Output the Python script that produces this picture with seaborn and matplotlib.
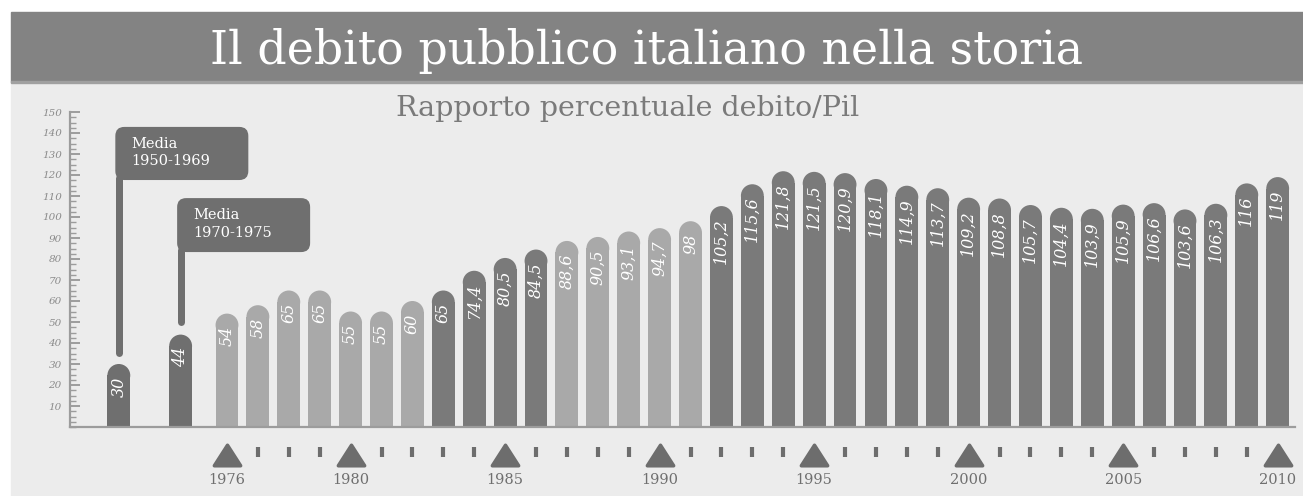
import numpy as np
import pandas as pd
import seaborn as sns
import matplotlib
matplotlib.use("Agg")
import matplotlib.pyplot as plt
from matplotlib.patches import Rectangle, Ellipse, FancyBboxPatch
from matplotlib.markers import MarkerStyle
from matplotlib.path import Path
import matplotlib.transforms as mtransforms
from matplotlib.ticker import MultipleLocator

# ---------------- data ----------------
title = "Il debito pubblico italiano nella storia"
subtitle = "Rapporto percentuale debito/Pil"

media_labels = ["Media\n1950-1969", "Media\n1970-1975"]
media_values = [30, 44]
media_pos = [1972.5, 1974.5]

years = list(range(1976, 2011))
debt = [54, 58, 65, 65, 55, 55, 60, 65, 74.4, 80.5, 84.5, 88.6, 90.5, 93.1,
        94.7, 98, 105.2, 115.6, 121.8, 121.5, 120.9, 118.1, 114.9, 113.7,
        109.2, 108.8, 105.7, 104.4, 103.9, 105.9, 106.6, 103.6, 106.3, 116, 119]
tone = (["chiaro"] * 7 + ["scuro"] * 4 + ["chiaro"] * 5 + ["scuro"] * 19)

label_years = [1976, 1980, 1985, 1990, 1995, 2000, 2005, 2010]
y_ticks = list(range(10, 151, 10))

# ---------------- styling ----------------
sns.set_theme(style="white")
plt.rcParams["font.family"] = ["DejaVu Serif", "DejaVu Sans"]

W, H = 1303, 496
fig = plt.figure(figsize=(W / 100, H / 100), dpi=100)
fig.patch.set_facecolor("white")

BG = "#ececec"
BANNER = "#838383"
DARK = "#7a7a7a"
LIGHT = "#a9a9a9"
MEDIA = "#6f6f6f"
AXIS = "#9c9c9c"

# background and banner (figure coords)
fig.patches.append(Rectangle((11 / W, 0), 1 - 11 / W, 1 - 82 / H,
                             transform=fig.transFigure, color=BG, zorder=-10))
fig.patches.append(Rectangle((11 / W, 1 - 82 / H), 1 - 11 / W, 70 / H,
                             transform=fig.transFigure, color=BANNER, zorder=-9))
fig.patches.append(Rectangle((11 / W, 1 - 83 / H), 1 - 11 / W, 1.5 / H,
                             transform=fig.transFigure, color="#a0a0a0", zorder=-8))

fig.text(646 / W, 1 - 64 / H, title, color="white", fontsize=33,
         ha="center", va="baseline", family="DejaVu Serif")
fig.text(628 / W, 1 - 116 / H, subtitle, color="#7a7a7a", fontsize=20.5,
         ha="center", va="baseline", family="DejaVu Serif")

# axes
ax_left, ax_right, ax_bottom, ax_top = 70, 1295, 427, 112
ax = fig.add_axes([ax_left / W, 1 - ax_bottom / H,
                   (ax_right - ax_left) / W, (ax_bottom - ax_top) / H])
ax.set_facecolor("none")

df = pd.DataFrame({
    "pos": media_pos + years,
    "val": media_values + debt,
    "grp": ["media"] * len(media_values) + tone,
})
labels_txt = [("%g" % v).replace(".", ",") for v in df["val"]]

sns.barplot(data=df, x="pos", y="val", hue="grp", native_scale=True,
            palette={"media": MEDIA, "chiaro": LIGHT, "scuro": DARK},
            dodge=False, width=0.74, saturation=1, legend=False, ax=ax)

ax.set_xlim(1970.92, 2010.56)
ax.set_ylim(0, 150)

# pixel scale
p0 = ax.transData.transform((0, 0))
px_x = ax.transData.transform((1, 0))[0] - p0[0]
px_y = ax.transData.transform((0, 1))[1] - p0[1]

# round bar tops
for p in list(ax.patches):
    x, w, h = p.get_x(), p.get_width(), p.get_height()
    if h <= 0:
        continue
    ry = (w / 2) * px_x / px_y
    fc = p.get_facecolor()
    p.set_height(h - ry)
    p.set_edgecolor("none")
    ax.add_patch(Ellipse((x + w / 2, h - ry), w, 2 * ry, facecolor=fc,
                         edgecolor="none", zorder=p.get_zorder()))

# value labels
for xp, v, t in zip(df["pos"], df["val"], labels_txt):
    ax.text(xp, v - 6, t, rotation=90, ha="center", va="top", color="white",
            fontsize=11.5, style="italic", family="DejaVu Serif", zorder=5)

# callouts
aspect = px_x / px_y
box_tops = [142.9, 109.0]
box_bottoms = [117.6, 83.3]
line_ends = [35.2, 50.1]
lw_px = 7
for xp, lab, top, bot, le in zip(media_pos, media_labels, box_tops, box_bottoms, line_ends):
    left = xp - (lw_px / 2) / px_x
    ax.plot([xp, xp], [le, bot + 1], color=MEDIA, lw=lw_px * 0.72,
            solid_capstyle="round", zorder=4)
    box = FancyBboxPatch((left, bot), 133 / px_x, top - bot,
                         boxstyle="round,pad=0,rounding_size=%f" % (9 / px_x),
                         mutation_aspect=aspect, facecolor=MEDIA,
                         edgecolor="none", zorder=4)
    ax.add_patch(box)
    ax.text(left + 16 / px_x, (top + bot) / 2 + 0.5, lab, color="white", fontsize=10.5,
            ha="left", va="center", linespacing=1.3, family="DejaVu Serif",
            zorder=6)

# axes styling
for s in ["top", "right"]:
    ax.spines[s].set_visible(False)
for s in ["left", "bottom"]:
    ax.spines[s].set_color(AXIS)
    ax.spines[s].set_linewidth(1.6)

ax.set_yticks(y_ticks)
ax.set_yticklabels([str(t) for t in y_ticks])
ax.yaxis.set_minor_locator(MultipleLocator(2.5))
ax.tick_params(axis="y", which="major", direction="in", length=7, width=1.4,
               color=AXIS, pad=6, labelsize=7.5, labelcolor="#8a8a8a", left=True)
ax.tick_params(axis="y", which="minor", direction="in", length=4, width=1.0,
               color=AXIS, left=True)
for lab in ax.get_yticklabels():
    lab.set_style("italic")
    lab.set_family("DejaVu Serif")

ax.set_xticks(label_years)
ax.set_xticklabels([str(y) for y in label_years])
ax.tick_params(axis="x", length=0, pad=33, labelsize=10.5, labelcolor="#6f6f6f")
ax.set_xlabel("")
ax.set_ylabel("")

# bottom markers: triangles and small ticks
trans = mtransforms.blended_transform_factory(ax.transData, ax.transAxes)
tri = MarkerStyle(Path([(-1, -0.78), (1, -0.78), (0, 0.78), (-1, -0.78)], closed=True),
                  joinstyle="round")
ax.plot(label_years, [(ax_bottom - 455) / (ax_bottom - ax_top)] * len(label_years),
        ls="none", marker=tri, markersize=19, color="#6d6d6d", mec="#6d6d6d",
        mew=2.5, transform=trans, clip_on=False)
small = [y for y in years if y not in label_years]
ax.plot(small, [(ax_bottom - 452) / (ax_bottom - ax_top)] * len(small),
        ls="none", marker="|", markersize=7, mew=3, color="#6d6d6d",
        transform=trans, clip_on=False)

fig.savefig("out.png", dpi=100, facecolor=fig.get_facecolor())
